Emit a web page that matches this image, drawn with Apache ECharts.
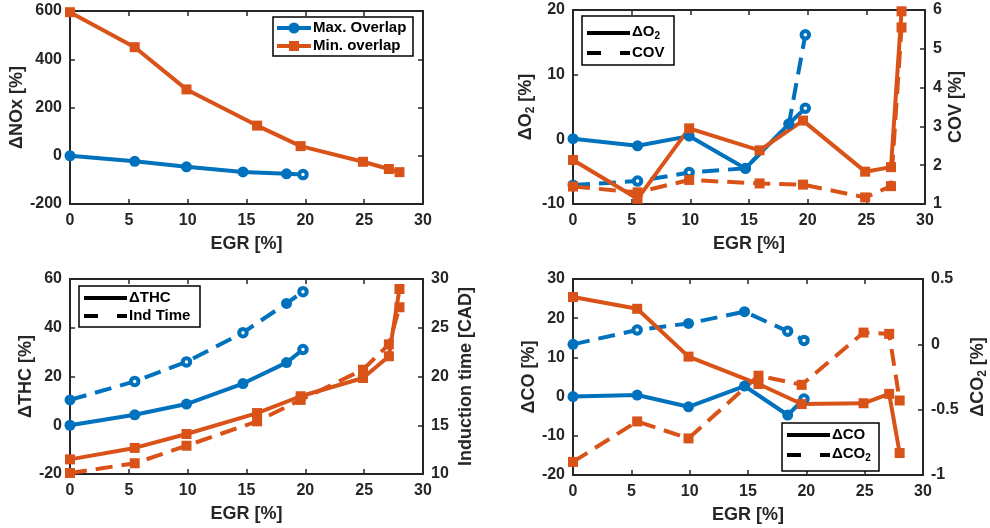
<!DOCTYPE html>
<html>
<head>
<meta charset="utf-8">
<script src="https://cdn.jsdelivr.net/npm/echarts@6/dist/echarts.min.js"></script>
<style>
  html, body { margin: 0; padding: 0; background: #fff; }
  #chart { width: 990px; height: 528px; }
</style>
</head>
<body>
<div id="chart"></div>
<script>
// EGR sweep points for the two injection strategies
const egrMax = [0, 5.5, 9.9, 14.7, 18.4, 19.8];
const egrMin = [0, 5.5, 9.9, 15.9, 19.6, 24.9, 27.1, 28.0];

// ΔNOx [%]
const noxMax = [0, -23, -46, -67, -75, -78];
const noxMin = [595, 450, 275, 125, 40, -25, -55, -68];

// ΔO2 [%] and COV [%]
const o2Max = [0.1, -1.0, 0.5, -4.5, 2.4, 4.8];
const o2Min = [-3.2, -9.2, 1.7, -1.7, 2.9, -5.0, -4.3, 19.8];
const covMax = [1.49, 1.59, 1.81, 1.92, 3.06, 5.36];
const covMin = [1.45, 1.30, 1.62, 1.53, 1.50, 1.17, 1.46, 5.55];

// ΔTHC [%] and induction time [CAD]
const thcMax = [0, 4.3, 8.7, 17.1, 25.7, 31.1];
const thcMin = [-14.0, -9.3, -3.6, 5.0, 11.9, 19.4, 28.3, 55.9];
const indMax = [17.6, 19.5, 21.5, 24.5, 27.5, 28.7];
const indMin = [10.1, 11.1, 12.9, 15.4, 17.6, 20.7, 23.3, 27.1];

// ΔCO [%] and ΔCO2 [%]
const coMax = [0, 0.4, -2.6, 2.7, -4.7, -0.6];
const coMin = [25.4, 22.4, 10.2, 3.2, -1.9, -1.7, 0.7, -14.4];
const co2Max = [0, 0.11, 0.16, 0.25, 0.10, 0.03];
const co2Min = [-0.90, -0.59, -0.72, -0.24, -0.31, 0.09, 0.08, -0.43];

// axis tick settings
const egrTicks = { min: 0, max: 30, interval: 5 };

const FONT = 'Liberation Sans';
const AX = '#262626';
const BLUE = '#0072BD';
const ORANGE = '#D95319';

const subRich = {
  n: { fontSize: 18, fontWeight: 'bold', color: AX, fontFamily: FONT },
  s: { fontSize: 12, fontWeight: 'bold', color: AX, fontFamily: FONT, verticalAlign: 'top', padding: [9, 0, 0, 0] }
};

const grids = [
  { left: 70, top: 11, width: 353, height: 193 },
  { left: 573, top: 10, width: 352, height: 194 },
  { left: 70, top: 279, width: 353, height: 195 },
  { left: 573, top: 279, width: 352, height: 196 }
];

function lineAx() { return { show: true, onZero: false, lineStyle: { color: AX, width: 2 } }; }
function tickAx() { return { show: true, inside: true, length: 5, lineStyle: { color: AX, width: 1.5 } }; }
function labelAx(margin) {
  return { show: true, fontSize: 16, fontWeight: 'bold', color: AX, fontFamily: FONT, margin: margin,
           showMinLabel: true, showMaxLabel: true };
}

const xAxes = [];
const yAxes = [];
grids.forEach((g, i) => {
  xAxes.push({
    gridIndex: i, type: 'value', position: 'bottom', ...egrTicks,
    name: 'EGR [%]', nameLocation: 'middle', nameGap: 31,
    nameTextStyle: { fontSize: 18, fontWeight: 'bold', color: AX, fontFamily: FONT },
    axisLine: lineAx(), axisTick: tickAx(), axisLabel: labelAx(9), splitLine: { show: false }
  });
  xAxes.push({
    gridIndex: i, type: 'value', position: 'top', ...egrTicks,
    axisLine: lineAx(), axisTick: tickAx(), axisLabel: { show: false }, splitLine: { show: false }
  });
});

function yAxis(gridIndex, position, range, name, nameGap, showLabels) {
  const ax = {
    gridIndex, type: 'value', position, ...range,
    axisLine: lineAx(), axisTick: tickAx(),
    axisLabel: showLabels ? labelAx(8) : { show: false },
    splitLine: { show: false }
  };
  if (name) {
    ax.name = name;
    ax.nameLocation = 'middle';
    ax.nameRotate = 90;
    ax.nameGap = nameGap;
    ax.nameTextStyle = { fontSize: 18, fontWeight: 'bold', color: AX, fontFamily: FONT, rich: subRich };
  }
  return ax;
}

// panel 1: ΔNOx
yAxes.push(yAxis(0, 'left', { min: -200, max: 600, interval: 200 }, '{n|ΔNOx [%]}', 44, true));
yAxes.push(yAxis(0, 'right', { min: -200, max: 600, interval: 200 }, null, 0, false));
// panel 2: ΔO2 / COV
yAxes.push(yAxis(1, 'left', { min: -10, max: 20, interval: 10 }, '{n|ΔO}{s|2}{n| [%]}', 36, true));
yAxes.push(yAxis(1, 'right', { min: 1, max: 6, interval: 1 }, '{n|COV [%]}', 22, true));
// panel 3: ΔTHC / induction time
yAxes.push(yAxis(2, 'left', { min: -20, max: 60, interval: 20 }, '{n|ΔTHC [%]}', 34, true));
yAxes.push(yAxis(2, 'right', { min: 10, max: 30, interval: 5 }, '{n|Induction time [CAD]}', 34, true));
// panel 4: ΔCO / ΔCO2
yAxes.push(yAxis(3, 'left', { min: -20, max: 30, interval: 10 }, '{n|ΔCO [%]}', 33, true));
yAxes.push(yAxis(3, 'right', { min: -1, max: 0.5, interval: 0.5 }, '{n|ΔCO}{s|2}{n| [%]}', 45, true));

function series(xs, ys, color, symbol, dashed, xi, yi, hollow) {
  hollow = hollow || [];
  const data = xs.map((x, i) => {
    const d = { value: [x, ys[i]] };
    if (hollow.indexOf(i) >= 0) {
      d.symbolSize = 7.5;
      d.itemStyle = { color: '#ffffff', borderColor: color, borderWidth: 4 };
    }
    return d;
  });
  return {
    type: 'line', xAxisIndex: xi, yAxisIndex: yi, data,
    symbol, symbolSize: symbol === 'circle' ? 11 : 10, showSymbol: true, showAllSymbol: true,
    lineStyle: { color, width: 4, type: dashed ? [17, 9] : 'solid' },
    itemStyle: { color, borderColor: color, borderWidth: 0 },
    clip: false, silent: true, animation: false, z: dashed ? 2 : 3
  };
}

const allSeries = [
  // panel 1
  series(egrMax, noxMax, BLUE, 'circle', false, 0, 0, [5]),
  series(egrMin, noxMin, ORANGE, 'rect', false, 0, 0),
  // panel 2
  series(egrMax, covMax, BLUE, 'circle', true, 2, 3, [1, 2, 5]),
  series(egrMin, covMin, ORANGE, 'rect', true, 2, 3),
  series(egrMax, o2Max, BLUE, 'circle', false, 2, 2, [5]),
  series(egrMin, o2Min, ORANGE, 'rect', false, 2, 2),
  // panel 3
  series(egrMax, indMax, BLUE, 'circle', true, 4, 5, [1, 2, 3, 5]),
  series(egrMin, indMin, ORANGE, 'rect', true, 4, 5),
  series(egrMax, thcMax, BLUE, 'circle', false, 4, 4, [5]),
  series(egrMin, thcMin, ORANGE, 'rect', false, 4, 4),
  // panel 4
  series(egrMax, co2Max, BLUE, 'circle', true, 6, 7, [1, 4, 5]),
  series(egrMin, co2Min, ORANGE, 'rect', true, 6, 7),
  series(egrMax, coMax, BLUE, 'circle', false, 6, 6, [5]),
  series(egrMin, coMin, ORANGE, 'rect', false, 6, 6)
];

// legend boxes drawn as graphics
const legendText = {
  fontSize: 15, fontWeight: 'bold', fill: '#000', fontFamily: FONT,
  rich: {
    n: { fontSize: 15, fontWeight: 'bold', fontFamily: FONT, fill: '#000' },
    s: { fontSize: 10, fontWeight: 'bold', fontFamily: FONT, fill: '#000', verticalAlign: 'top', padding: [8, 0, 0, 0] }
  }
};
function box(x, y, w, h) {
  return { type: 'rect', shape: { x, y, width: w, height: h }, style: { fill: '#fff', stroke: '#000', lineWidth: 1.5 }, z: 100 };
}
function seg(x1, x2, y, color) {
  return { type: 'line', shape: { x1, y1: y, x2, y2: y }, style: { stroke: color, lineWidth: 4 }, z: 101 };
}
function label(x, y, text) {
  return { type: 'text', x, y, style: Object.assign({}, legendText, { text, verticalAlign: 'middle', align: 'left' }), z: 101 };
}
function solidKey(x1, x2, y) { return [seg(x1, x2, y, '#000')]; }
function dashKey(x1, x2, y) { return [seg(x1, x1 + 14, y, '#000'), seg(x2 - 10, x2, y, '#000')]; }

const graphics = [
  // panel 1
  box(273, 17, 140, 39),
  seg(277, 311, 28, BLUE),
  { type: 'circle', shape: { cx: 294, cy: 28, r: 5.5 }, style: { fill: BLUE }, z: 102 },
  seg(277, 311, 46, ORANGE),
  { type: 'rect', shape: { x: 289, y: 41, width: 10, height: 10 }, style: { fill: ORANGE }, z: 102 },
  label(313, 28, 'Max. Overlap'),
  label(313, 46, 'Min. overlap'),
  // panel 2
  box(582, 16, 92, 49),
  ...solidKey(587, 630, 33),
  label(632, 32, '{n|ΔO}{s|2}'),
  ...dashKey(587, 630, 53),
  label(632, 53, 'COV'),
  // panel 3
  box(79, 286, 121, 41),
  ...solidKey(84, 127, 298),
  label(129, 298, 'ΔTHC'),
  ...dashKey(84, 127, 316),
  label(129, 316, 'Ind Time'),
  // panel 4
  box(782, 423, 97, 48),
  ...solidKey(787, 830, 435),
  label(832, 435, 'ΔCO'),
  ...dashKey(787, 830, 455),
  label(832, 454, '{n|ΔCO}{s|2}')
];

const chart = echarts.init(document.getElementById('chart'), null, { renderer: 'canvas' });
chart.setOption({
  animation: false,
  backgroundColor: '#ffffff',
  textStyle: { fontFamily: FONT },
  grid: grids,
  xAxis: xAxes,
  yAxis: yAxes,
  series: allSeries,
  graphic: graphics
});
</script>
</body>
</html>
